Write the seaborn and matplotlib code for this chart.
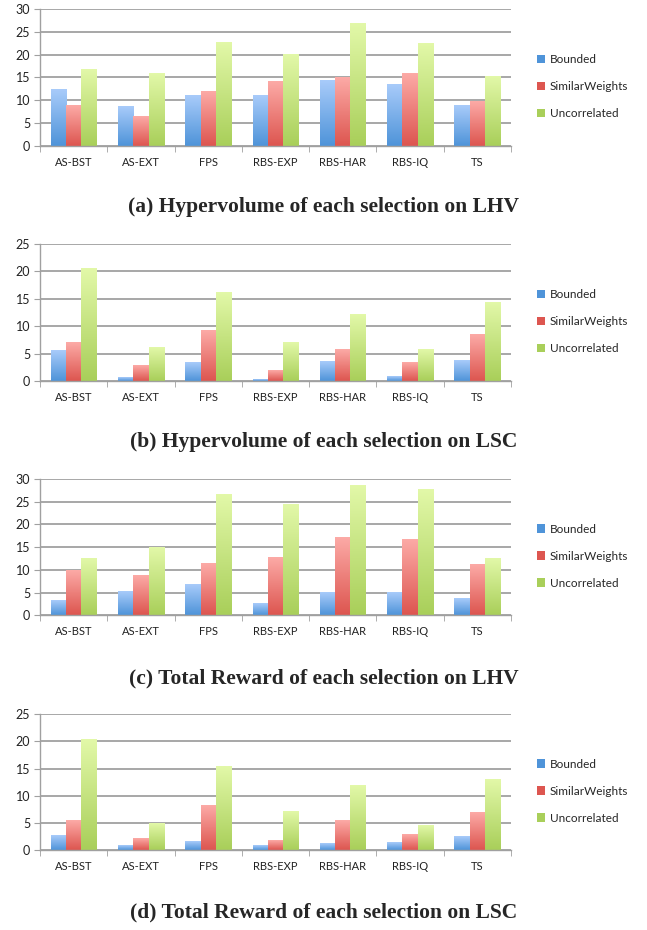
import numpy as np
import pandas as pd
import matplotlib
matplotlib.use("Agg")
import matplotlib.pyplot as plt
from matplotlib.colors import LinearSegmentedColormap
from matplotlib.patches import Patch
import seaborn as sns

selections = ["AS-BST", "AS-EXT", "FPS", "RBS-EXP", "RBS-HAR", "RBS-IQ", "TS"]
instances = ["Bounded", "SimilarWeights", "Uncorrelated"]

# (a) Hypervolume on LHV
hv_lhv_bounded = [12.5, 8.7, 11.1, 11.1, 14.4, 13.6, 9.0]
hv_lhv_similar = [9.0, 6.5, 12.0, 14.2, 15.1, 16.0, 9.7]
hv_lhv_uncorr = [16.9, 16.0, 22.8, 20.2, 27.0, 22.6, 15.3]

# (b) Hypervolume on LSC
hv_lsc_bounded = [5.5, 0.55, 3.3, 0.35, 3.5, 0.9, 3.65]
hv_lsc_similar = [7.1, 2.9, 9.3, 2.0, 5.8, 3.3, 8.4]
hv_lsc_uncorr = [20.6, 6.2, 16.2, 7.1, 12.2, 5.8, 14.4]

# (c) Total reward on LHV
tr_lhv_bounded = [3.15, 5.1, 6.7, 2.5, 4.9, 4.9, 3.6]
tr_lhv_similar = [9.8, 8.7, 11.3, 12.6, 17.0, 16.6, 11.1]
tr_lhv_uncorr = [12.4, 14.8, 26.5, 24.3, 28.5, 27.6, 12.4]

# (d) Total reward on LSC
tr_lsc_bounded = [2.6, 0.8, 1.5, 0.8, 1.2, 1.35, 2.45]
tr_lsc_similar = [5.4, 2.1, 8.1, 1.7, 5.4, 2.8, 6.85]
tr_lsc_uncorr = [20.2, 4.8, 15.3, 7.0, 11.8, 4.5, 12.9]

captions = [
    "(a) Hypervolume of each selection on LHV",
    "(b) Hypervolume of each selection on LSC",
    "(c) Total Reward of each selection on LHV",
    "(d) Total Reward of each selection on LSC",
]
panels = [
    (hv_lhv_bounded, hv_lhv_similar, hv_lhv_uncorr, 30),
    (hv_lsc_bounded, hv_lsc_similar, hv_lsc_uncorr, 25),
    (tr_lhv_bounded, tr_lhv_similar, tr_lhv_uncorr, 30),
    (tr_lsc_bounded, tr_lsc_similar, tr_lsc_uncorr, 25),
]

# gradient colours (bottom, top) per instance
grad = {
    "Bounded": ("#4f94d9", "#a8cbfa"),
    "SimilarWeights": ("#dd5650", "#fcaaa6"),
    "Uncorrelated": ("#a9cf5a", "#e2f8a8"),
}
palette = {k: v[0] for k, v in grad.items()}

sns.set_style("white")
plt.rcParams["font.family"] = ["Lato", "DejaVu Sans"]

W, H = 647, 930
fig = plt.figure(figsize=(W / 100, H / 100), dpi=100)

# axes boxes in pixels: (top of ylim, zero line)
boxes = [(9.3, 145.7), (244, 381), (479, 615.3), (714, 850.3)]
cap_y = [207, 442, 678, 912]
left_px, right_px = 40, 511
gray = "#a0a0a0"

for i, ((b, s, u, ymax), (ytop, ybot)) in enumerate(zip(panels, boxes)):
    ax = fig.add_axes([left_px / W, 1 - ybot / H, (right_px - left_px) / W, (ybot - ytop) / H])
    df = pd.DataFrame({
        "selection": selections * 3,
        "instance": np.repeat(instances, len(selections)),
        "value": list(b) + list(s) + list(u),
    })
    sns.barplot(data=df, x="selection", y="value", hue="instance", palette=palette,
                width=0.68, ax=ax, legend=False, saturation=1, errorbar=None)

    # vertical gradient on each bar, the flat bar itself is hidden
    for cont, inst in zip(ax.containers, instances):
        cmap = LinearSegmentedColormap.from_list(inst, grad[inst])
        for bar in cont:
            x0, w, h = bar.get_x(), bar.get_width(), bar.get_height()
            bar.set_alpha(0)
            img = np.linspace(1, 0, 64).reshape(-1, 1)
            ax.imshow(img, cmap=cmap, extent=[x0, x0 + w, 0, h], aspect="auto",
                      zorder=2.5, interpolation="bilinear")

    ax.set_xlim(-0.5, len(selections) - 0.5)
    ax.set_ylim(0, ymax)
    ax.set_yticks(np.arange(0, ymax + 1, 5))
    ax.yaxis.grid(True, color=gray, linewidth=1.3)
    ax.set_axisbelow(True)
    ax.set_xlabel("")
    ax.set_ylabel("")
    for side in ["top", "right"]:
        ax.spines[side].set_visible(False)
    for side in ["left", "bottom"]:
        ax.spines[side].set_color(gray)
        ax.spines[side].set_linewidth(1.0)
    ax.set_xticks(np.arange(-0.5, len(selections)), minor=True)
    ax.tick_params(axis="x", which="major", length=0, labelsize=8, pad=8, colors="#222222")
    ax.tick_params(axis="x", which="minor", length=4, direction="out", color=gray, bottom=True)
    ax.tick_params(axis="y", length=4, direction="out", color=gray, left=True,
                   labelsize=9, colors="#222222", pad=3)

    handles = [Patch(facecolor=grad[k][0], edgecolor="none") for k in instances]
    fig.legend(handles, instances, loc="center left",
               bbox_to_anchor=(526 / W, 1 - ((ytop + ybot) / 2 + 9) / H),
               frameon=False, fontsize=8.5, handlelength=0.7, handleheight=0.7,
               handletextpad=0.4, labelspacing=1.35)

    fig.text(0.5, 1 - cap_y[i] / H, captions[i], ha="center", va="center",
             fontsize=15.5, fontweight="bold", family=["Liberation Serif", "DejaVu Serif"])

fig.savefig("out.png", dpi=100)
